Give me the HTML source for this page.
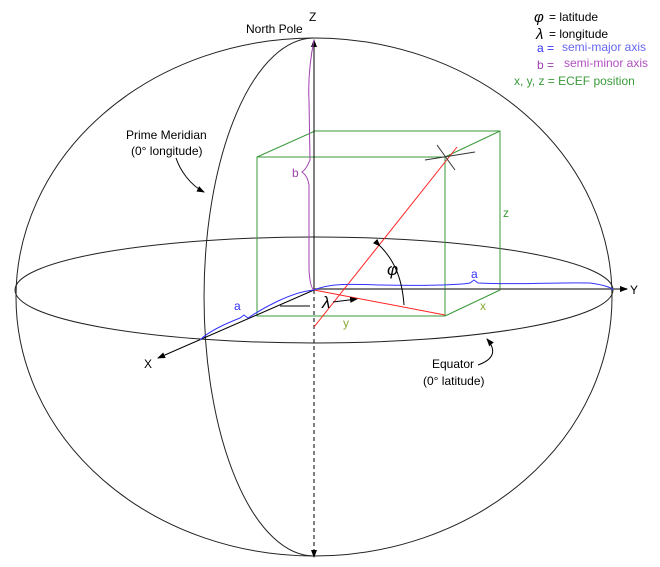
<!DOCTYPE html>
<html><head><style>body{margin:0;background:#fff}svg{display:block}text{font-family:"Liberation Sans",sans-serif}</style></head><body>
<svg width="660" height="567" viewBox="0 0 660 567" xmlns="http://www.w3.org/2000/svg">
<defs><marker id="ar" markerWidth="8" markerHeight="8" refX="7" refY="4" orient="auto" markerUnits="userSpaceOnUse"><path d="M0,1 L8,4 L0,7 Z" fill="#000"/></marker></defs>
<g fill="none" stroke="#222" stroke-width="1">
<ellipse cx="314" cy="297" rx="298" ry="259"/>
<path d="M314,38 A110,259 0 0 0 314,556"/>
<ellipse cx="314" cy="290" rx="299" ry="53"/>
</g>
<g fill="none" stroke="#3a9a3a" stroke-width="1">
<rect x="257" y="157" width="188" height="159"/>
<path d="M257,157 L315,131 L500,131 L500,290 L445,316 M445,157 L500,131"/>
</g>
<line x1="314" y1="290" x2="314" y2="40" stroke="#000" marker-end="url(#ar)"/>
<line x1="314" y1="290" x2="314" y2="557" stroke="#000" stroke-dasharray="4,3" marker-end="url(#ar)"/>
<line x1="314" y1="289" x2="627" y2="289" stroke="#555" stroke-width="1.5" marker-end="url(#ar)"/>
<line x1="314" y1="290" x2="158" y2="358" stroke="#000" marker-end="url(#ar)"/>
<line x1="314" y1="327" x2="457" y2="147" stroke="#f22"/>
<line x1="314" y1="290" x2="445" y2="315" stroke="#f22"/>
<g stroke="#333"><line x1="425" y1="160" x2="475" y2="152"/><line x1="437" y1="145" x2="455" y2="170"/></g>
<path d="M200,340 C210,330 230,322 240,318 L244,315 L248,318 C260,310 290,292 314,290 C330,283 350,284 380,285 C420,286 460,285 470,283 L474,280 L478,283 C520,285 560,282 590,283 C605,285 612,288 613,290" fill="none" stroke="#33f"/>
<path d="M314,40 C310,60 308,80 309,100 L310,160 C308,165 305,170 302,172 C305,174 308,178 309,185 L309,270 C310,285 312,289 314,290" fill="none" stroke="#a040b0"/>
<path d="M380,246 C392,258 402,275 404,305" fill="none" stroke="#000" marker-start="url(#ar)"/>
<path d="M280,306 L310,306 M333,302 L357,299" fill="none" stroke="#000" marker-end="url(#ar)"/>
<path d="M176,158 C180,170 190,185 204,192" fill="none" stroke="#000" marker-end="url(#ar)"/>
<path d="M478,365 C492,360 498,352 487,339" fill="none" stroke="#000" marker-end="url(#ar)"/>
<g font-size="12" fill="#000">
<text x="309" y="21">Z</text>
<text x="246" y="33">North Pole</text>
<text x="126" y="139">Prime Meridian</text>
<text x="131" y="155">(0° longitude)</text>
<text x="630" y="294">Y</text>
<text x="144" y="368">X</text>
<text x="432" y="368">Equator</text>
<text x="423" y="385">(0° latitude)</text>
<text x="549" y="21">= latitude</text>
<text x="549" y="38">= longitude</text>
</g>
<g font-family="Liberation Serif" font-style="italic" font-size="17" fill="#000">
<text x="387" y="275">φ</text>
<text x="322" y="308">λ</text>
<text x="534" y="22" font-size="15">φ</text>
<text x="536" y="39" font-size="15">λ</text>
</g>
<g font-size="12">
<text x="292" y="177" fill="#a040b0">b</text>
<text x="234" y="310" fill="#33f">a</text>
<text x="471" y="278" fill="#33f">a</text>
<text x="503" y="217" fill="#3a9a3a">z</text>
<text x="480" y="310" fill="#8a3">x</text>
<text x="343" y="327" fill="#8a3">y</text>
<text x="537" y="52" fill="#33f">a =</text><text x="562" y="51" fill="#66e">semi-major axis</text>
<text x="537" y="69" fill="#a040b0">b =</text><text x="564" y="67" fill="#b050c0">semi-minor axis</text>
<text x="514" y="85" fill="#3a9a3a">x, y, z = ECEF position</text>
</g>
</svg>
</body></html>
